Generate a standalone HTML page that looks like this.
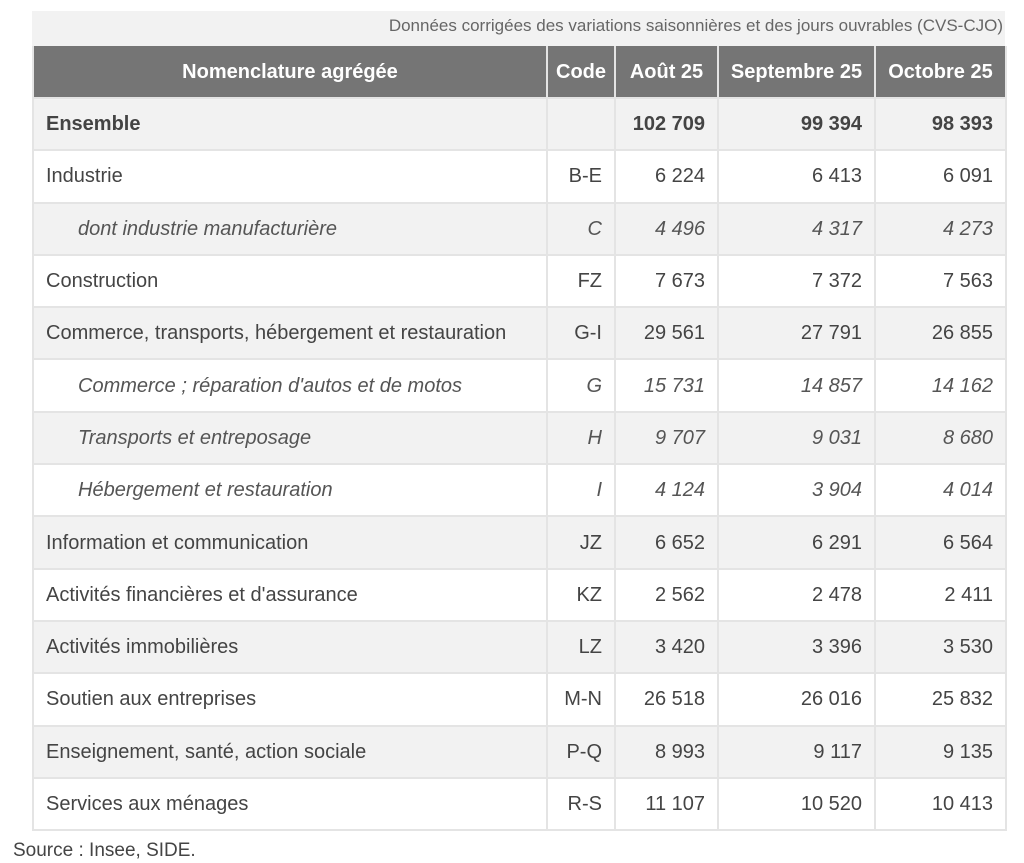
<!DOCTYPE html>
<html><head><meta charset="utf-8"><style>
body{margin:0;background:#fff;width:1024px;height:863px;position:relative;font-family:"Liberation Sans",sans-serif;color:#444;}
.cap{position:absolute;left:32px;top:11px;width:973px;height:35px;background:#f2f2f2;}
.cap span{position:absolute;right:2px;top:5px;font-size:17px;color:#666;}
table{position:absolute;left:32px;top:46px;width:973px;border-collapse:collapse;table-layout:fixed;font-size:20px;}
th{background:#757575;color:#fff;height:51px;padding:0 8px;font-weight:bold;border:2px solid #e4e4e4;border-top:none;text-align:center;white-space:nowrap;line-height:20px;}
td{height:50.3px;padding:0 12px;border:2px solid #e4e4e4;text-align:right;white-space:nowrap;line-height:20px;}
td:first-child{text-align:left;}
tr.g td{background:#f2f2f2;}
tr.b td{font-weight:bold;}
tr.i td{font-style:italic;color:#555;}
tr.i td:first-child{padding-left:44px;}
.src{position:absolute;left:13px;top:840px;font-size:19px;color:#444;}
</style></head><body>
<div class="cap"><span>Données corrigées des variations saisonnières et des jours ouvrables (CVS-CJO)</span></div>
<table>
<colgroup><col style="width:514px"><col style="width:68px"><col style="width:103px"><col style="width:157px"><col style="width:131px"></colgroup>
<tr><th>Nomenclature agrégée</th><th>Code</th><th>Août 25</th><th>Septembre 25</th><th>Octobre 25</th></tr>
<tr class="g b"><td>Ensemble</td><td></td><td>102 709</td><td>99 394</td><td>98 393</td></tr>
<tr><td>Industrie</td><td>B-E</td><td>6 224</td><td>6 413</td><td>6 091</td></tr>
<tr class="g i"><td>dont industrie manufacturière</td><td>C</td><td>4 496</td><td>4 317</td><td>4 273</td></tr>
<tr><td>Construction</td><td>FZ</td><td>7 673</td><td>7 372</td><td>7 563</td></tr>
<tr class="g"><td>Commerce, transports, hébergement et restauration</td><td>G-I</td><td>29 561</td><td>27 791</td><td>26 855</td></tr>
<tr class="i"><td>Commerce ; réparation d'autos et de motos</td><td>G</td><td>15 731</td><td>14 857</td><td>14 162</td></tr>
<tr class="g i"><td>Transports et entreposage</td><td>H</td><td>9 707</td><td>9 031</td><td>8 680</td></tr>
<tr class="i"><td>Hébergement et restauration</td><td>I</td><td>4 124</td><td>3 904</td><td>4 014</td></tr>
<tr class="g"><td>Information et communication</td><td>JZ</td><td>6 652</td><td>6 291</td><td>6 564</td></tr>
<tr><td>Activités financières et d'assurance</td><td>KZ</td><td>2 562</td><td>2 478</td><td>2 411</td></tr>
<tr class="g"><td>Activités immobilières</td><td>LZ</td><td>3 420</td><td>3 396</td><td>3 530</td></tr>
<tr><td>Soutien aux entreprises</td><td>M-N</td><td>26 518</td><td>26 016</td><td>25 832</td></tr>
<tr class="g"><td>Enseignement, santé, action sociale</td><td>P-Q</td><td>8 993</td><td>9 117</td><td>9 135</td></tr>
<tr><td>Services aux ménages</td><td>R-S</td><td>11 107</td><td>10 520</td><td>10 413</td></tr>
</table>
<div class="src">Source : Insee, SIDE.</div>
</body></html>
